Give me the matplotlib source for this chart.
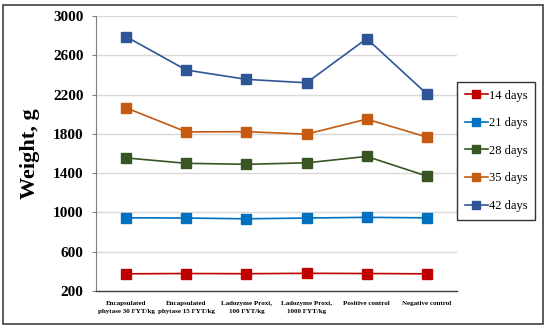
import matplotlib
matplotlib.use("Agg")
import matplotlib.pyplot as plt
from matplotlib.patches import Rectangle

categories = ["Encapsulated\nphytase 30 FYT/kg", "Encapsulated\nphytase 15 FYT/kg",
              "Ladozyme Proxi,\n100 FYT/kg", "Ladozyme Proxi,\n1000 FYT/kg",
              "Positive control", "Negative control"]
series_names = ["14 days", "21 days", "28 days", "35 days", "42 days"]
d14 = [375, 378, 376, 380, 378, 375]
d21 = [945, 943, 935, 943, 950, 945]
d28 = [1555, 1500, 1490, 1505, 1570, 1370]
d35 = [2065, 1820, 1822, 1797, 1950, 1767]
d42 = [2790, 2450, 2355, 2320, 2770, 2206]
colors = ["#C00000", "#0070C0", "#375623", "#C55A11", "#2F5597"]
yticks = [200, 600, 1000, 1400, 1800, 2200, 2600, 3000]

plt.rcParams['font.family'] = ['Liberation Serif', 'DejaVu Serif']

fig = plt.figure(figsize=(5.5, 3.3), dpi=100)
ax = fig.add_axes([96/550, 1-291/330, (457-96)/550, (291-16)/330])

x = list(range(len(categories)))
for vals, name, c in zip([d14, d21, d28, d35, d42], series_names, colors):
    ax.plot(x, vals, color=c, lw=1.2, marker='s', markersize=7, label=name, zorder=3)

ax.set_xlim(-0.5, len(categories) - 0.5)
ax.set_ylim(200, 3000)
ax.set_yticks(yticks)
ax.set_yticklabels([str(v) for v in yticks], fontsize=11, fontweight='bold')
ax.set_xticks(x)
ax.set_xticklabels(categories, fontsize=5, fontweight='bold', linespacing=1.85)
ax.tick_params(axis='x', length=0, pad=7)
ax.tick_params(axis='y', length=3, width=0.8, color='#808080', pad=6)
ax.grid(axis='y', color='#D9D9D9', lw=1)
ax.set_axisbelow(True)
for s in ['top', 'right']:
    ax.spines[s].set_visible(False)
ax.spines['left'].set_color('#808080')
ax.spines['bottom'].set_color('#404040')
ax.spines['bottom'].set_linewidth(1.0)
ax.set_ylabel("Weight, g", fontsize=16, fontweight='bold')
ax.yaxis.set_label_coords(-0.155, 0.5)

leg = fig.legend(loc='upper left', bbox_to_anchor=(457/550, 1-82/330), borderaxespad=0,
                 fontsize=9, frameon=True, fancybox=False, edgecolor='black',
                 handlelength=1.9, handletextpad=0.05, labelspacing=1.25,
                 borderpad=0.6, markerscale=0.8)
leg.get_frame().set_linewidth(1.0)

fig.patches.append(Rectangle((3/550, 1-324/330), 540/550, 319/330, transform=fig.transFigure,
                             fill=False, edgecolor='#404040', lw=1.2))

fig.savefig("out.png", dpi=100)
